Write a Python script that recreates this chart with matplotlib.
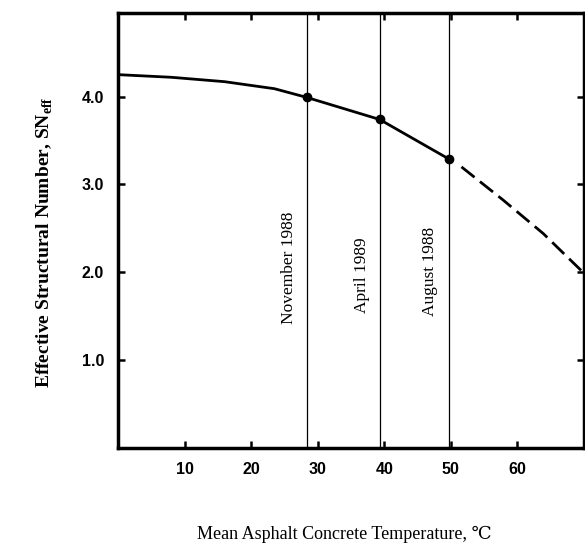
import matplotlib.pyplot as plt

# ------------------------------------------------------
# Values
# ------------------------------------------------------
solid_temp = [0.0, 8.0, 16.0, 23.5, 28.4, 39.3, 49.7]
solid_sn = [4.25, 4.22, 4.17, 4.09, 3.99, 3.74, 3.29]

dashed_temp = [51.6, 57.9, 63.9, 70.0]
dashed_sn = [3.20, 2.82, 2.44, 1.99]

test_temp = [28.4, 39.3, 49.7]
test_sn = [3.99, 3.74, 3.29]
test_labels = ['November 1988', 'April 1989', 'August 1988']
label_offset = [-2.7, -2.7, -2.8]
label_y = [2.05, 1.97, 2.01]

x_ticks = [10, 20, 30, 40, 50, 60]
y_ticks = [1.0, 2.0, 3.0, 4.0]

serif = ['Liberation Serif', 'DejaVu Serif']
sans = ['Liberation Sans', 'DejaVu Sans']


def plot_sn_eff():
    fig = plt.figure(figsize=(5.85, 5.48), dpi=100)
    ax = fig.add_axes([0.2017, 0.1825, 0.7965, 0.7935])

    # ----------- curve -----------------------------
    ax.plot(solid_temp, solid_sn, color='black', lw=2.0, solid_capstyle='butt')
    ax.plot(dashed_temp, dashed_sn, color='black', lw=2.0, dashes=(6, 2.5),
            clip_on=True)
    ax.plot(test_temp, test_sn, 'o', color='black', ms=6)

    # ----------- test date lines -------------------
    for t, lab, off, yy in zip(test_temp, test_labels, label_offset, label_y):
        ax.axvline(t, color='black', lw=0.9)
        ax.text(t + off, yy, lab, rotation=90, ha='center', va='center',
                fontsize=12.5, family=serif)

    ax.set_xlim(0, 70)
    ax.set_ylim(0, 4.95)
    ax.set_xticks(x_ticks)
    ax.set_yticks(y_ticks)
    ax.set_xticklabels([str(v) for v in x_ticks], family=sans,
                       fontweight='bold', fontsize=11.5)
    ax.set_yticklabels(['%.1f' % v for v in y_ticks], family=sans,
                       fontweight='bold', fontsize=11.5)
    ax.tick_params(direction='in', length=5, width=1.8, top=True, right=True,
                   labeltop=False, labelright=False)
    ax.tick_params(axis='x', pad=10)
    ax.tick_params(axis='y', pad=10)
    for s in ax.spines.values():
        s.set_linewidth(2.5)

    fig.text(0.077, 0.558, r'Effective Structural Number, SN$_{\mathregular{eff}}$',
             rotation=90, ha='center', va='center', fontsize=14,
             fontweight='bold', family=serif)
    fig.text(0.588, 0.024, 'Mean Asphalt Concrete Temperature, \u2103',
             ha='center', va='center', fontsize=13, family=serif)

    fig.savefig('out.png', dpi=100)


if __name__ == '__main__':
    plot_sn_eff()
